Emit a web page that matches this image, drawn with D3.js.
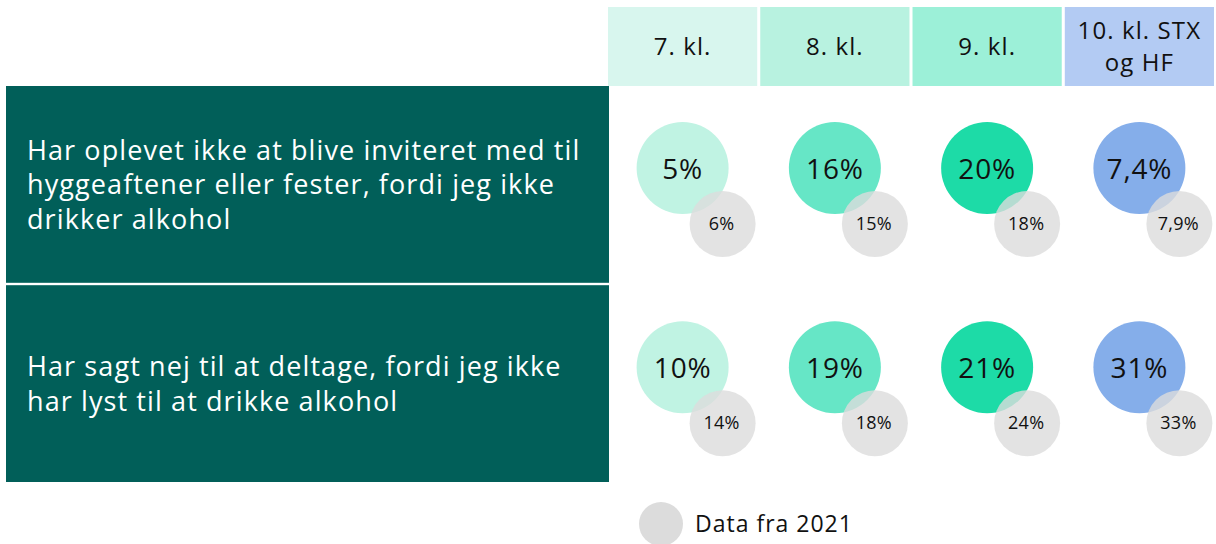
<!DOCTYPE html>
<html><head><meta charset="utf-8">
<script src="https://cdn.jsdelivr.net/npm/d3@7"></script>
<style>body{margin:0;background:#fff;font-family:"Open Sans",Lato,sans-serif;}</style>
</head><body>
<svg id="c" width="1216" height="544"></svg>
<script>
const categories = ["7. kl.", "8. kl.", "9. kl.", "10. kl. STX og HF"];
const headerLines = [["7. kl."], ["8. kl."], ["9. kl."], ["10. kl. STX", "og HF"]];
const questions = [
  "Har oplevet ikke at blive inviteret med til hyggeaftener eller fester, fordi jeg ikke drikker alkohol",
  "Har sagt nej til at deltage, fordi jeg ikke har lyst til at drikke alkohol"
];
const questionLines = [
  ["Har oplevet ikke at blive inviteret med til", "hyggeaftener eller fester, fordi jeg ikke", "drikker alkohol"],
  ["Har sagt nej til at deltage, fordi jeg ikke", "har lyst til at drikke alkohol"]
];
const values2023 = [[5, 16, 20, 7.4], [10, 19, 21, 31]];
const values2021 = [[6, 15, 18, 7.9], [14, 18, 24, 33]];
const legendLabel = "Data fra 2021";

const headerColors = ["#d8f6ee", "#b8f2e0", "#9cf0d8", "#b3cbf3"];
const circleColors = ["#c0f3e3", "#66e6c6", "#1ddba7", "#85aeea"];

const svg = d3.select("#c");
const loc = d3.formatLocale({decimal: ",", thousands: ".", grouping: [3], currency: ["", " kr"]});
const fmt = v => (Number.isInteger(v) ? loc.format("d")(v) : loc.format(".1f")(v)) + "%";

const x = d3.scaleBand().domain(categories).range([608, 1214]).paddingInner(0.02);
const y = d3.scaleBand().domain(questions).range([86, 482]).paddingInner(0.012);

// header
const hdr = svg.append("g").selectAll("g").data(categories).join("g");
hdr.append("rect")
  .attr("x", d => x(d)).attr("y", 7).attr("width", x.bandwidth()).attr("height", 79)
  .attr("fill", (d, i) => headerColors[i]);
hdr.each(function(d, i) {
  const lines = headerLines[i];
  const cx = x(d) + x.bandwidth() / 2;
  const t = d3.select(this).append("text").attr("text-anchor", "middle")
    .attr("font-size", 24).attr("letter-spacing", 1.1).attr("fill", "#111");
  lines.forEach((l, j) => {
    t.append("tspan").attr("x", cx)
      .attr("y", 47 + 8 + (j - (lines.length - 1) / 2) * 32).text(l);
  });
});

// left panels
const rows = svg.append("g").selectAll("g").data(questions).join("g");
rows.append("rect")
  .attr("x", 6).attr("y", d => y(d)).attr("width", 603).attr("height", y.bandwidth())
  .attr("fill", "#015f59");
rows.each(function(d, i) {
  const lines = questionLines[i];
  const cy = y(d) + y.bandwidth() / 2;
  const t = d3.select(this).append("text").attr("font-size", 27)
    .attr("letter-spacing", 1.1).attr("fill", "#fff");
  lines.forEach((l, j) => {
    t.append("tspan").attr("x", 27)
      .attr("y", cy + 10 + (j - (lines.length - 1) / 2) * 34.5).text(l);
  });
});

// circles
questions.forEach((q, qi) => {
  const g = svg.append("g");
  const cy = y(q) + 82;
  const cells = g.selectAll("g").data(categories).join("g")
    .attr("transform", d => `translate(${x(d) + x.bandwidth() / 2},${cy})`);
  cells.append("circle").attr("r", 46).attr("fill", (d, i) => circleColors[i]);
  cells.append("text").attr("text-anchor", "middle").attr("y", 11)
    .attr("font-size", 28).attr("letter-spacing", 0.8).attr("fill", "#111")
    .text((d, i) => fmt(values2023[qi][i]));
  cells.append("circle").attr("cx", 40).attr("cy", 56).attr("r", 33)
    .attr("fill", "#dcdcdc").attr("fill-opacity", 0.8);
  cells.append("text").attr("text-anchor", "middle").attr("x", 39).attr("y", 62)
    .attr("font-size", 18).attr("letter-spacing", 0.3).attr("fill", "#111")
    .text((d, i) => fmt(values2021[qi][i]));
});

// legend
const lg = svg.append("g");
lg.append("circle").attr("cx", 661).attr("cy", 524).attr("r", 22).attr("fill", "#dcdcdc");
lg.append("text").attr("x", 695).attr("y", 532).attr("font-size", 23)
  .attr("letter-spacing", 1).attr("fill", "#111").text(legendLabel);
</script>
</body></html>
